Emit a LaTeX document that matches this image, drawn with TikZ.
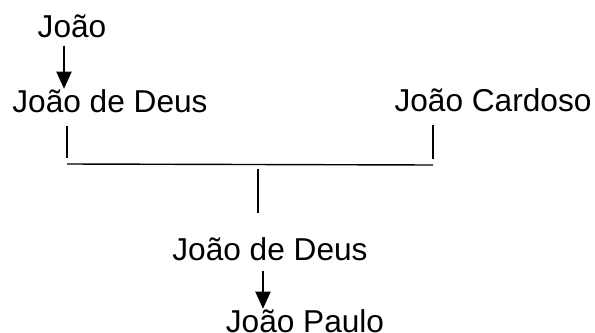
\documentclass[tikz,border=0pt]{standalone}
\usepackage{fontspec}
\setmainfont{Liberation Sans}
\usetikzlibrary{arrows.meta}
\tikzstyle{person}=[anchor=base, inner sep=0pt, font=\fontsize{18}{20}\selectfont]
\tikzstyle{arr}=[line width=1.1pt, -{Triangle[length=0.34cm,width=0.3cm]}]
\tikzstyle{vline}=[line width=0.6pt]
\tikzstyle{hline}=[line width=0.8pt]

\begin{document}
\begin{tikzpicture}
\useasboundingbox (0,0) rectangle (11.9,-6.64);
\draw (1.44,-0.76) node[person] (joao) {João};
\draw (2.2,-2.24) node[person] (deus1) {João de Deus};
\draw (9.86,-2.22) node[person] (cardoso) {João Cardoso};
\draw (5.4,-5.2) node[person] (deus2) {João de Deus};
\draw (6.1,-6.64) node[person] (paulo) {João Paulo};
\coordinate (barL) at (1.34,-3.28);
\coordinate (barR) at (8.66,-3.3);
\coordinate (barM) at (5.16,-3.29);

\draw[arr, shorten <=0.14cm] ([xshift=-0.16cm]joao.south) -- ([xshift=-0.16cm]joao.south |- deus1.north);
\draw[vline, shorten <=0.26cm, shorten >=0.12cm] (deus1.south -| barL) -- (barL);
\draw[vline, shorten <=0.26cm, shorten >=0.12cm] (cardoso.south -| barR) -- (barR);
\draw[hline] (barL) -- (barR);
\draw[vline, shorten <=0.08cm, shorten >=0.48cm] (barM) -- (barM |- deus2.north);
\draw[arr, shorten <=0.2cm] ([xshift=-0.14cm]deus2.south) -- ([xshift=-0.14cm]deus2.south |- paulo.north);
\end{tikzpicture}
\end{document}
